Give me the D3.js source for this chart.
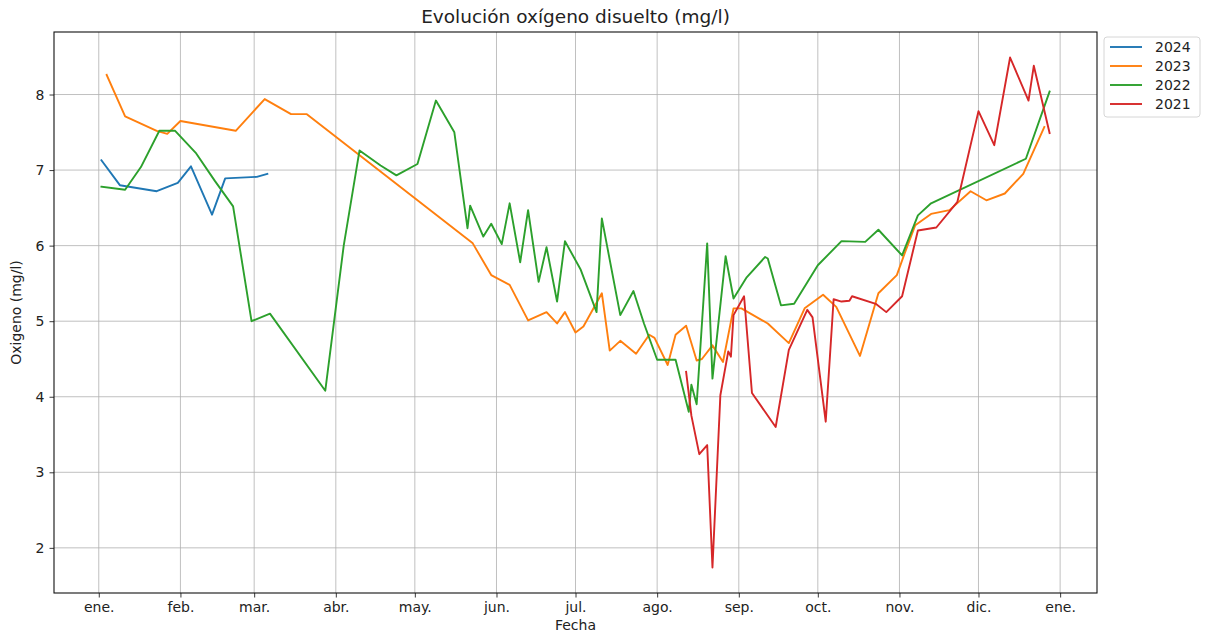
<!DOCTYPE html>
<html>
<head>
<meta charset="utf-8">
<script src="https://cdn.jsdelivr.net/npm/d3@7"></script>
<style>
  body { margin: 0; background: #fff; }
  svg { font-family: "DejaVu Sans", sans-serif; }
</style>
</head>
<body>
<svg id="chart" width="1205" height="632"></svg>
<script>
// all years drawn over one common (non-leap) year
const baseYear = 2023;
const years = ["2024", "2023", "2022", "2021"];
const colors = ["#1f77b4", "#ff7f0e", "#2ca02c", "#d62728"];
const monthLabels = ["ene.", "feb.", "mar.", "abr.", "may.", "jun.", "jul.", "ago.", "sep.", "oct.", "nov.", "dic."];
const yTicks = [2, 3, 4, 5, 6, 7, 8];

const dates2024 = ["01-02", "01-09", "01-23", "01-31", "02-05", "02-13", "02-18", "03-02", "03-06"];
const values2024 = [7.13, 6.80, 6.72, 6.83, 7.05, 6.41, 6.89, 6.91, 6.95];

const dates2023 = ["01-04", "01-11", "01-23", "01-27", "02-01", "02-22", "03-05", "03-15", "03-21",
  "05-23", "05-30", "06-06", "06-13", "06-20", "06-24", "06-27", "07-01", "07-04", "07-11",
  "07-14", "07-18", "07-24", "07-29", "07-31", "08-05", "08-08", "08-12", "08-16", "08-18",
  "08-22", "08-26", "08-30", "09-02", "09-12", "09-20", "09-26", "10-03", "10-08", "10-17",
  "10-24", "10-31", "11-03", "11-07", "11-13", "11-20", "11-28", "12-04", "12-11", "12-18", "12-26"];
const values2023 = [8.26, 7.71, 7.52, 7.48, 7.65, 7.52, 7.94, 7.74, 7.74,
  6.03, 5.61, 5.48, 5.01, 5.12, 4.97, 5.12, 4.85, 4.93, 5.37,
  4.61, 4.74, 4.57, 4.82, 4.78, 4.42, 4.82, 4.94, 4.48, 4.50,
  4.68, 4.46, 5.17, 5.17, 4.97, 4.71, 5.17, 5.35, 5.19, 4.54,
  5.37, 5.61, 5.90, 6.27, 6.42, 6.47, 6.72, 6.60, 6.69, 6.95, 7.57];

const dates2022 = ["01-02", "01-11", "01-17", "01-24", "01-30", "02-07", "02-14", "02-21", "02-28",
  "03-07", "03-28", "04-04", "04-10", "04-18", "04-24", "05-02", "05-09", "05-16", "05-21",
  "05-22", "05-27", "05-30", "06-03", "06-06", "06-10", "06-13", "06-17", "06-20", "06-24",
  "06-27", "07-03", "07-09", "07-11", "07-18", "07-23", "07-27", "08-01", "08-08", "08-13",
  "08-14", "08-16", "08-20", "08-22", "08-27", "08-30", "09-04", "09-11", "09-12", "09-17",
  "09-22", "10-01", "10-10", "10-19", "10-24", "11-02", "11-08", "11-13", "12-19", "12-28"];
const values2022 = [6.78, 6.74, 7.04, 7.52, 7.52, 7.22, 6.86, 6.52, 5.00,
  5.10, 4.08, 6.00, 7.26, 7.06, 6.93, 7.08, 7.92, 7.50, 6.23,
  6.53, 6.12, 6.29, 6.02, 6.56, 5.78, 6.47, 5.52, 5.98, 5.26,
  6.06, 5.68, 5.12, 6.36, 5.08, 5.40, 4.97, 4.49, 4.49, 3.80,
  4.16, 3.90, 6.03, 4.24, 5.86, 5.30, 5.58, 5.85, 5.83, 5.21,
  5.23, 5.74, 6.06, 6.05, 6.21, 5.87, 6.40, 6.56, 7.15, 8.04];

const dates2021 = ["08-12", "08-14", "08-17", "08-20", "08-22", "08-25", "08-28", "08-29", "08-30",
  "09-03", "09-06", "09-15", "09-20", "09-27", "09-29", "10-04", "10-07", "10-10", "10-13",
  "10-14", "10-23", "10-27", "11-02", "11-08", "11-15", "11-23", "12-01", "12-07", "12-13",
  "12-20", "12-22", "12-28"];
const values2021 = [4.33, 3.75, 3.24, 3.36, 1.74, 4.02, 4.60, 4.53, 5.08,
  5.33, 4.05, 3.60, 4.62, 5.15, 5.05, 3.67, 5.29, 5.26, 5.27,
  5.33, 5.23, 5.12, 5.33, 6.20, 6.24, 6.58, 7.78, 7.33, 8.49,
  7.92, 8.38, 7.49];

const parseDay = d3.timeParse("%Y-%m-%d");
const seriesDates = [dates2024, dates2023, dates2022, dates2021];
const seriesValues = [values2024, values2023, values2022, values2021];
const series = years.map((year, i) => ({
  year: year,
  color: colors[i],
  points: seriesDates[i].map((md, j) => ({ date: parseDay(baseYear + "-" + md), value: seriesValues[i][j] }))
}));

const svg = d3.select("#chart");
const plot = { left: 54, right: 1097, top: 32, bottom: 593 };

// matplotlib style 5% margins around the data
const allPoints = series.flatMap((s) => s.points);
const dateExtent = d3.extent(allPoints, (p) => p.date);
const dPad = (dateExtent[1] - dateExtent[0]) * 0.05;
const valueExtent = d3.extent(allPoints, (p) => p.value);
const vPad = (valueExtent[1] - valueExtent[0]) * 0.05;

const x = d3.scaleTime()
  .domain([new Date(+dateExtent[0] - dPad), new Date(+dateExtent[1] + dPad)])
  .range([plot.left, plot.right]);
const y = d3.scaleLinear()
  .domain([valueExtent[0] - vPad, valueExtent[1] + vPad])
  .range([plot.bottom, plot.top]);

const monthTicks = d3.timeMonth.range(new Date(baseYear, 0, 1), new Date(baseYear + 1, 0, 2));

// grid
const grid = svg.append("g").attr("stroke", "#b0b0b0").attr("stroke-width", 0.8);
grid.selectAll("line.gx").data(monthTicks).enter().append("line")
  .attr("x1", (d) => x(d)).attr("x2", (d) => x(d))
  .attr("y1", plot.top).attr("y2", plot.bottom);
grid.selectAll("line.gy").data(yTicks).enter().append("line")
  .attr("x1", plot.left).attr("x2", plot.right)
  .attr("y1", (d) => y(d)).attr("y2", (d) => y(d));

// lines
const line = d3.line().x((p) => x(p.date)).y((p) => y(p.value));
svg.append("g").selectAll("path").data(series).enter().append("path")
  .attr("fill", "none")
  .attr("stroke", (s) => s.color)
  .attr("stroke-width", 1.9)
  .attr("stroke-linejoin", "round")
  .attr("stroke-linecap", "square")
  .attr("d", (s) => line(s.points));

// axes
const xAxis = d3.axisBottom(x).tickValues(monthTicks)
  .tickFormat((d) => monthLabels[d.getMonth()]).tickSize(4.5).tickPadding(5);
const gx = svg.append("g").attr("transform", `translate(0,${plot.bottom})`).call(xAxis);
const yAxis = d3.axisLeft(y).tickValues(yTicks).tickSize(4.5).tickPadding(5);
const gy = svg.append("g").attr("transform", `translate(${plot.left},0)`).call(yAxis);
[gx, gy].forEach((g) => {
  g.select(".domain").remove();
  g.selectAll("text").attr("font-size", 14).attr("fill", "#222").attr("font-family", "DejaVu Sans");
  g.selectAll("line").attr("stroke", "#222").attr("stroke-width", 0.9);
});

// frame
svg.append("rect")
  .attr("x", plot.left).attr("y", plot.top)
  .attr("width", plot.right - plot.left).attr("height", plot.bottom - plot.top)
  .attr("fill", "none").attr("stroke", "#111").attr("stroke-width", 1.1);

// labels
svg.append("text").attr("x", (plot.left + plot.right) / 2).attr("y", 23)
  .attr("text-anchor", "middle").attr("font-size", 18.5).attr("fill", "#222")
  .text("Evolución oxígeno disuelto (mg/l)");
svg.append("text").attr("x", (plot.left + plot.right) / 2).attr("y", 630)
  .attr("text-anchor", "middle").attr("font-size", 14).attr("fill", "#222")
  .text("Fecha");
svg.append("text")
  .attr("transform", `translate(21,${(plot.top + plot.bottom) / 2}) rotate(-90)`)
  .attr("text-anchor", "middle").attr("font-size", 14).attr("fill", "#222")
  .text("Oxigeno (mg/l)");

// legend outside the plot, upper right
const legend = svg.append("g").attr("transform", "translate(1104,37)");
legend.append("rect").attr("width", 96).attr("height", 80).attr("rx", 3)
  .attr("fill", "#fff").attr("fill-opacity", 0.8)
  .attr("stroke", "#d6d6d6").attr("stroke-width", 1);
const item = legend.selectAll("g.item").data(series).enter().append("g")
  .attr("transform", (s, i) => `translate(0,${10 + i * 19})`);
item.append("line").attr("x1", 6).attr("x2", 38)
  .attr("stroke", (s) => s.color).attr("stroke-width", 1.9);
item.append("text").attr("x", 51).attr("y", 5).attr("font-size", 14).attr("fill", "#222")
  .text((s) => s.year);
</script>
</body>
</html>
